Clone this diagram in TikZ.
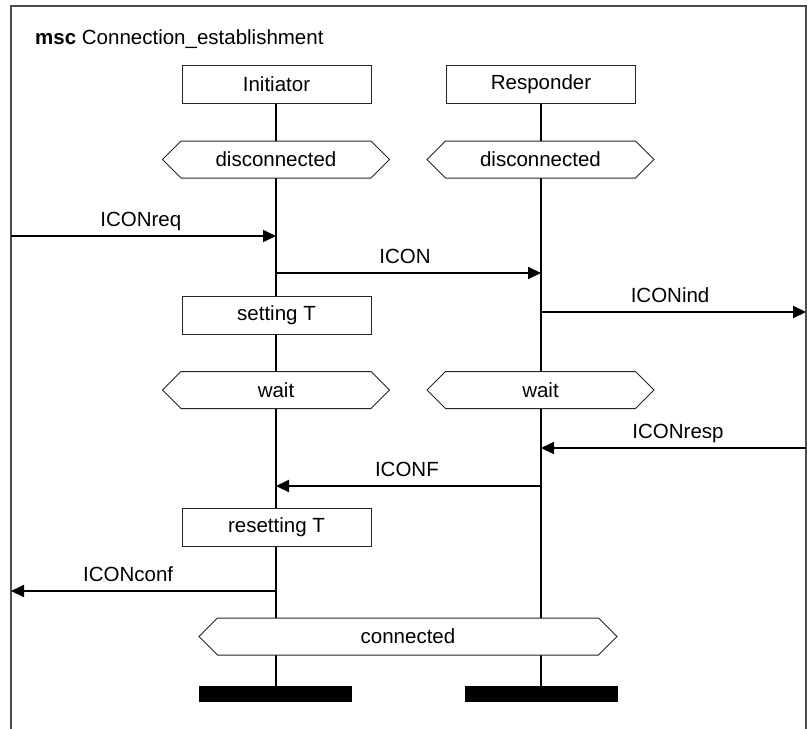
\documentclass[tikz,border=0pt]{standalone}
\usepackage{fontspec}
\setmainfont{Liberation Sans}
\usetikzlibrary{arrows.meta,shapes.symbols,backgrounds}
\begin{document}
\begin{tikzpicture}[x=1pt,y=-1pt,
  font=\fontsize{20.5}{24}\selectfont,
  frame/.style={draw=black!70, line width=1.5pt},
  instbox/.style={draw=black!85, line width=1pt, fill=white,
    minimum width=189pt, minimum height=38pt, inner sep=0pt},
  actionbox/.style={instbox},
  condition/.style={shape=signal, signal to=west and east,
    signal pointer angle=90, draw=black!85, line width=1pt, fill=white,
    minimum height=37pt, inner sep=0pt},
  stopbar/.style={fill=black, minimum width=153pt, minimum height=16pt, inner sep=0pt},
  lifeline/.style={line width=2pt},
  msg/.style={line width=2pt, -{Triangle[length=13pt,width=12pt]}},
  msglabel/.style={anchor=base, yshift=10pt, inner sep=0pt}
]
\useasboundingbox (0,0) rectangle (807,729);

% MSC frame, open at the bottom
\draw[frame] (11,729) -- (11,6) -- (806,6) -- (806,729);
\node[anchor=base west, inner sep=0pt] (title) at (35,44)
  {\textbf{msc} Connection\_establishment};

% instance heads
\node[instbox] (ini) at (276.5,84) {Initiator};
\node[instbox] (res) at (541,84) {Responder};

% conditions and actions
\node[condition, minimum width=227pt] (idisc) at (276,159.5) {disconnected};
\node[condition, minimum width=227pt] (rdisc) at (540.5,159.5) {disconnected};
\node[actionbox] (iset) at (276.5,315) {setting T};
\node[condition, minimum width=227pt] (iwait) at (276,390) {wait};
\node[condition, minimum width=227pt] (rwait) at (540.5,390) {wait};
\node[actionbox] (ireset) at (276.5,527) {resetting T};
\node[condition, minimum width=418pt] (conn) at (408,636.5) {connected};

% instance ends
\node[stopbar] (iend) at (275.5,694) {};
\node[stopbar] (rend) at (541,694) {};

% lifelines behind the symbols
\begin{scope}[on background layer]
  \draw[lifeline] (ini.south -| 276,0) -- (iend.north -| 276,0);
  \draw[lifeline] (res.south -| 541,0) -- (rend.north -| 541,0);
\end{scope}

% message end points
\coordinate (envreq)  at (11,236);
\coordinate (ireq)    at (276,236);
\coordinate (icon)    at (276,273);
\coordinate (rcon)    at (541,273);
\coordinate (rind)    at (541,312);
\coordinate (envind)  at (806,312);
\coordinate (envresp) at (806,448);
\coordinate (rresp)   at (541,448);
\coordinate (rconf)   at (541,486);
\coordinate (iconf)   at (276,486);
\coordinate (iout)    at (276,591);
\coordinate (envconf) at (11,591);

% messages
\draw[msg] (envreq) -- node[msglabel, pos=0.49] {ICONreq} (ireq);
\draw[msg] (icon) -- node[msglabel, pos=0.487] {ICON} (rcon);
\draw[msg] (rind) -- node[msglabel, pos=0.487] {ICONind} (envind);
\draw[msg] (envresp) -- node[msglabel, pos=0.483] {ICONresp} (rresp);
\draw[msg] (rconf) -- node[msglabel, pos=0.506] {ICONF} (iconf);
\draw[msg] (iout) -- node[msglabel, pos=0.558] {ICONconf} (envconf);
\end{tikzpicture}
\end{document}
